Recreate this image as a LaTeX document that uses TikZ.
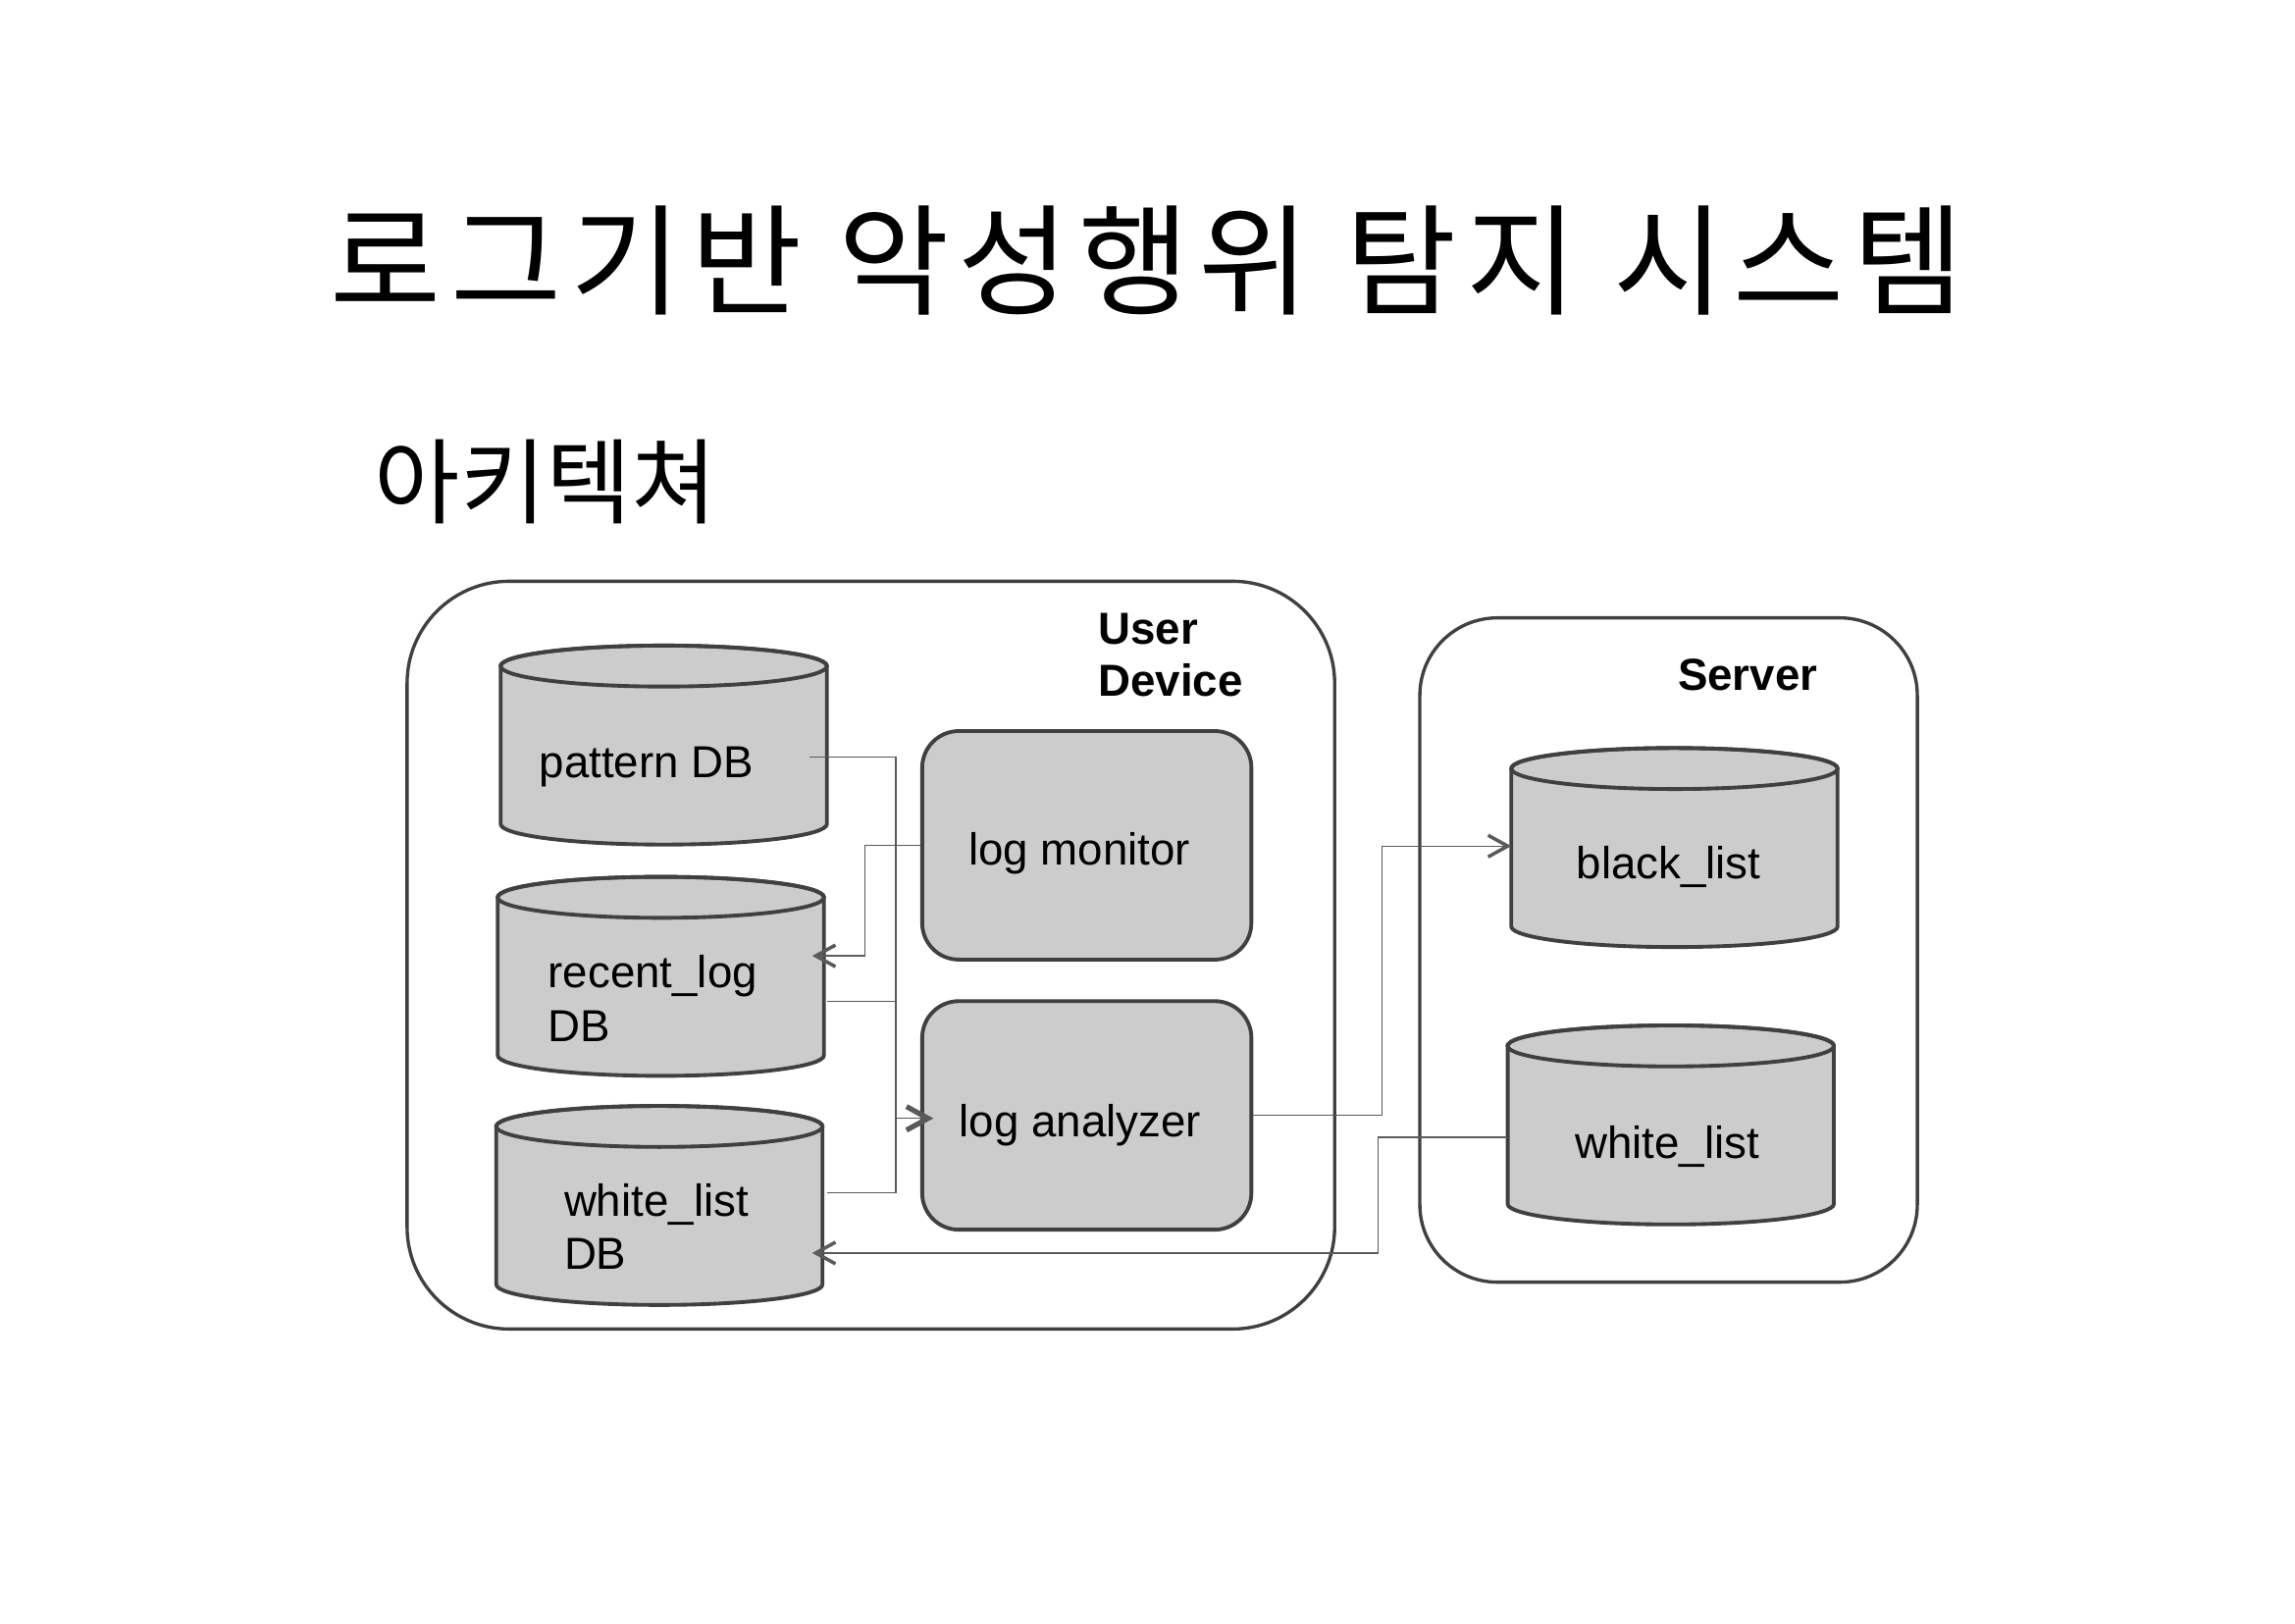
\documentclass[tikz,border=0pt]{standalone}
\usepackage{fontspec}
\setmainfont{Liberation Sans}
\newfontfamily\krfont{Noto Sans CJK KR}
\newfontfamily\krtitle[LetterSpace=7.6]{Noto Sans CJK KR}
\usetikzlibrary{arrows.meta,calc}
\definecolor{boxfill}{HTML}{CCCCCC}
\definecolor{edgecol}{HTML}{404040}
\definecolor{conncol}{HTML}{5A5A5A}
\newcommand\cylRx{1.663cm}
\newcommand\cylRy{0.209cm}
\newcommand\drawcyl[1]{%
  \path[fill=boxfill,draw=edgecol,line width=1.1pt]
    (#1.north west) -- (#1.south west)
    arc[start angle=180,end angle=360,x radius=\cylRx,y radius=\cylRy]
    -- (#1.north east)
    arc[start angle=0,end angle=180,x radius=\cylRx,y radius=\cylRy] -- cycle;
  \draw[edgecol,line width=1.1pt] (#1.north) ellipse[x radius=\cylRx,y radius=\cylRy];
}
\tikzset{
  cylnode/.style={rectangle,inner sep=0pt,outer sep=0pt,minimum width=3.326cm,minimum height=1.611cm},
  lbl/.style={font=\fontsize{13}{15.5}\selectfont,inner sep=0pt,align=left},
  procbox/.style={rectangle,rounded corners=0.373cm,fill=boxfill,draw=edgecol,line width=1.1pt,
    minimum width=3.356cm,minimum height=2.33cm},
  container/.style={rectangle,draw=edgecol,line width=0.95pt,inner sep=0pt},
  conn/.style={draw=conncol,line width=0.4pt},
  tip/.style={-{Straight Barb[length=2mm,width=2.2mm,line width=1pt]}},
  boldtip/.style={-{Straight Barb[length=2.2mm,width=2.4mm,line width=1.5pt]}},
  grouplbl/.style={font=\bfseries\fontsize{13}{15}\selectfont,align=left,inner sep=0pt},
}
\begin{document}
\begin{tikzpicture}[x=0.014917cm,y=-0.014917cm]
\useasboundingbox (0,0) rectangle (1568,1108.8);
\fill[white] (0,0) rectangle (1568,1108.8);

% titles
\node[font=\krtitle\fontsize{35}{40}\selectfont,inner sep=0pt] (title) at (784,178) {로그기반 악성행위 탐지 시스템};
\node[font=\krfont\fontsize{27}{32}\selectfont,inner sep=0pt] (subtitle) at (373,329) {아키텍쳐};

% containers
\node[container,rounded corners=1.04cm,minimum width=9.457cm,minimum height=7.623cm] (ud) at (595,652.5) {};
\node[container,rounded corners=0.79cm,minimum width=5.072cm,minimum height=6.772cm] (srv) at (1140,649) {};
\node[grouplbl,anchor=west] (udl) at (750,447.5) {User\\Device};
\node[grouplbl] (srvl) at (1194,461) {Server};

% cylinders
\node[cylnode] (pdb) at (453.5,509) {};
\node[cylnode] (rdb) at (451.5,667) {};
\node[cylnode] (wdb) at (450.5,823.5) {};
\node[cylnode] (bl) at (1144,579) {};
\node[cylnode] (swl) at (1141.5,768.5) {};
\drawcyl{pdb}
\drawcyl{rdb}
\drawcyl{wdb}
\drawcyl{bl}
\drawcyl{swl}
\node[lbl,anchor=west] (pdbl) at (368,524) {pattern DB};
\node[lbl,anchor=west] (rdbl) at (374,682) {recent\_log\\DB};
\node[lbl,anchor=west] (wdbl) at (385,838) {white\_list\\DB};
\node[lbl] (bll) at (1140,592) {black\_list};
\node[lbl] (swll) at (1139,783) {white\_list};

% process boxes
\node[procbox] (lmon) at (742.5,577.5) {};
\node[procbox] (lana) at (742.5,762) {};
\node[lbl] (lmonl) at (737.5,583) {log monitor};
\node[lbl] (lanal) at (738,769) {log analyzer};

% connectors
\draw[conn,boldtip] ($(pdb.east)+(-12,8)$) -- ++(59,0) |- ($(lana.west)+(9,2)$);
\draw[conn] ($(rdb.east)+(2,17)$) -- ++(47,0) |- ($(lana.west)+(0,2)$);
\draw[conn] ($(wdb.east)+(3,-8.5)$) -- ++(47,0) |- ($(lana.west)+(0,2)$);
\draw[conn,tip] (lmon.west) -- ++(-38,0) |- ($(rdb.east)+(-8,-14)$);
\draw[conn,tip] (lana.east) -- ++(88,0) |- ($(bl.west)+(0,-1)$);
\draw[conn,tip] ($(swl.west)+(-0.5,8.5)$) -- ++(-88,0) |- ($(wdb.east)+(-7,32.5)$);
\end{tikzpicture}
\end{document}
